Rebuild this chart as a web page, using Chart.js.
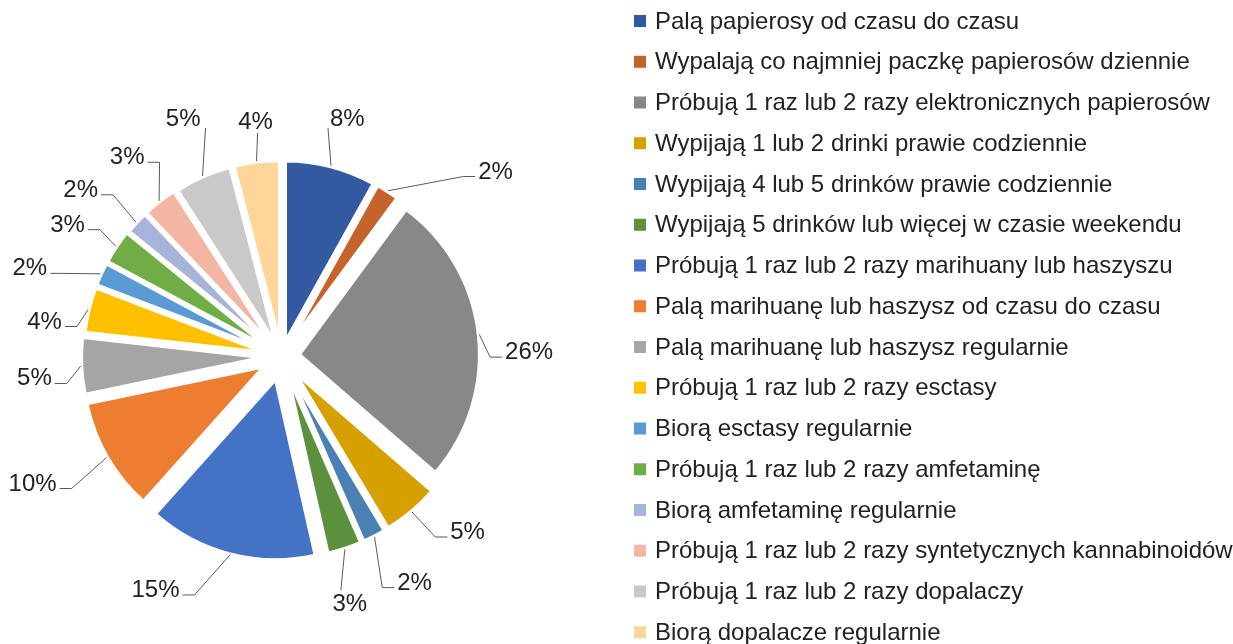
<!DOCTYPE html>
<html lang="pl">
<head>
    <meta charset="UTF-8">
    <meta name="viewport" content="width=device-width, initial-scale=1.0">
    <title>Wykres</title>
    <style>
        html, body { margin: 0; padding: 0; background: #fff; overflow: hidden; }
        #chart-container { width: 1233px; height: 644px; position: relative; }
    </style>
</head>
<body>
    <div id="chart-container">
        <canvas id="myChart"></canvas>
    </div>
    <script src="https://cdn.jsdelivr.net/npm/chart.js"></script>

    <script>
        //Categories and values (percent of respondents)
        const labelsArray = [
            'Palą papierosy od czasu do czasu',
            'Wypalają co najmniej paczkę papierosów dziennie',
            'Próbują 1 raz lub 2 razy elektronicznych papierosów',
            'Wypijają 1 lub 2 drinki prawie codziennie',
            'Wypijają 4 lub 5 drinków prawie codziennie',
            'Wypijają 5 drinków lub więcej w czasie weekendu',
            'Próbują 1 raz lub 2 razy marihuany lub haszyszu',
            'Palą marihuanę lub haszysz od czasu do czasu',
            'Palą marihuanę lub haszysz regularnie',
            'Próbują 1 raz lub 2 razy esctasy',
            'Biorą esctasy regularnie',
            'Próbują 1 raz lub 2 razy amfetaminę',
            'Biorą amfetaminę regularnie',
            'Próbują 1 raz lub 2 razy syntetycznych kannabinoidów',
            'Próbują 1 raz lub 2 razy dopalaczy',
            'Biorą dopalacze regularnie'
        ];
        const valuesArray = [8, 2, 26, 5, 2, 3, 15, 10, 5, 4, 2, 3, 2, 3, 5, 4];

        //slice colours
        const colorsArray = [
            '#335AA0', '#C6632B', '#888888', '#D6A000', '#4A80B3', '#5B903C',
            '#4472C4', '#ED7D31', '#A5A5A5', '#FFC000', '#5B9BD5', '#70AD47',
            '#A6B4DB', '#F3B6A2', '#C9C9C9', '#FFD69A'
        ];

        //how far each slice is pulled out of the pie (px)
        const explodeArray = [16, 16, 18, 22, 22, 22, 24, 21, 20, 18, 18, 18, 17, 17, 16, 16];

        //hand tweaks of the label leader end points (px), like the moved labels in the original
        const labelNudge = [
            [-3, 0], [59, 11], [-19, 26], [4, 2], [-6, 24], [-4, 3], [-28, 11], [-9, 16],
            [16, 16], [18, 24], [-11, 12], [9, 0], [-1, -7], [19, -15], [3, -10], [1, 10]
        ];

        const FONT = '24px "Liberation Sans", Arial, sans-serif';
        const TEXT_COLOR = '#222222';

        //move the arcs outwards along their middle angle
        const explodePlugin = {
            id: 'explode',
            afterDatasetUpdate(chart, args) {
                args.meta.data.forEach((arc, i) => {
                    const mid = (arc.startAngle + arc.endAngle) / 2;
                    const d = explodeArray[i] || 0;
                    arc.x += Math.cos(mid) * d;
                    arc.y += Math.sin(mid) * d;
                });
            }
        };

        //percentage labels with leader lines
        const labelPlugin = {
            id: 'pieLabels',
            afterDatasetsDraw(chart) {
                const ctx = chart.ctx;
                const meta = chart.getDatasetMeta(0);
                const data = chart.data.datasets[0].data;
                const total = data.reduce((a, b) => a + b, 0);
                ctx.save();
                ctx.font = FONT;
                ctx.fillStyle = TEXT_COLOR;
                ctx.strokeStyle = '#595959';
                ctx.lineWidth = 1;
                ctx.textBaseline = 'alphabetic';
                meta.data.forEach((arc, i) => {
                    const mid = (arc.startAngle + arc.endAngle) / 2;
                    const dx = Math.cos(mid), dy = Math.sin(mid);
                    const r = arc.outerRadius;
                    const ex = arc.x + dx * (r + 1);
                    const ey = arc.y + dy * (r + 1);
                    const share = data[i] / total;
                    const text = Math.round(share * 100) + '%';
                    const nudge = labelNudge[i] || [0, 0];
                    ctx.beginPath();
                    ctx.moveTo(ex, ey);
                    if (Math.abs(dx) < 0.42 && share < 0.1) {
                        //straight up / down leader, text sits at its end
                        const px = ex + nudge[0];
                        const py = ey + Math.sign(dy) * 38 + nudge[1];
                        ctx.lineTo(px, py);
                        ctx.stroke();
                        if (dy < 0) {
                            if (dx > 0.15) { ctx.textAlign = 'left'; ctx.fillText(text, px + 2, py - 2); }
                            else if (dx < -0.15) { ctx.textAlign = 'right'; ctx.fillText(text, px - 5, py - 2); }
                            else { ctx.textAlign = 'center'; ctx.fillText(text, px - 2, py - 4); }
                        } else {
                            ctx.textAlign = 'center';
                            ctx.fillText(text, px + 9, py + 21);
                        }
                    } else {
                        //diagonal leader with a short horizontal elbow
                        const side = Math.sign(dx);
                        const px = ex + dx * 30 + nudge[0];
                        const py = ey + dy * 30 + nudge[1];
                        ctx.lineTo(px, py);
                        ctx.lineTo(px + side * 12, py);
                        ctx.stroke();
                        ctx.textAlign = side > 0 ? 'left' : 'right';
                        ctx.fillText(text, px + side * 15, py + 2);
                    }
                });
                ctx.restore();
            }
        };

        //legend on the right, one column (runs off the bottom like the original)
        const legendPlugin = {
            id: 'sideLegend',
            afterDraw(chart) {
                const ctx = chart.ctx;
                const ds = chart.data.datasets[0];
                ctx.save();
                ctx.font = FONT;
                ctx.textBaseline = 'middle';
                ctx.textAlign = 'left';
                chart.data.labels.forEach((lab, i) => {
                    const y = 21 + i * 40.75;
                    ctx.fillStyle = ds.backgroundColor[i];
                    ctx.fillRect(634, y - 6, 12, 12);
                    ctx.fillStyle = TEXT_COLOR;
                    ctx.fillText(lab, 655, y + 1);
                });
                ctx.restore();
            }
        };

        const ctx = document.getElementById('myChart').getContext('2d');
        new Chart(ctx, {
            type: 'pie',
            data: {
                labels: labelsArray,
                datasets: [{
                    data: valuesArray,
                    backgroundColor: colorsArray,
                    borderColor: '#ffffff',
                    borderWidth: 3
                }]
            },
            options: {
                responsive: true,
                maintainAspectRatio: false,
                animation: false,
                events: [],
                radius: 180,
                layout: {
                    padding: { left: 0, right: 670, top: 69, bottom: 0 }
                },
                plugins: {
                    legend: { display: false },
                    tooltip: { enabled: false }
                }
            },
            plugins: [explodePlugin, labelPlugin, legendPlugin]
        });
    </script>
</body>
</html>
